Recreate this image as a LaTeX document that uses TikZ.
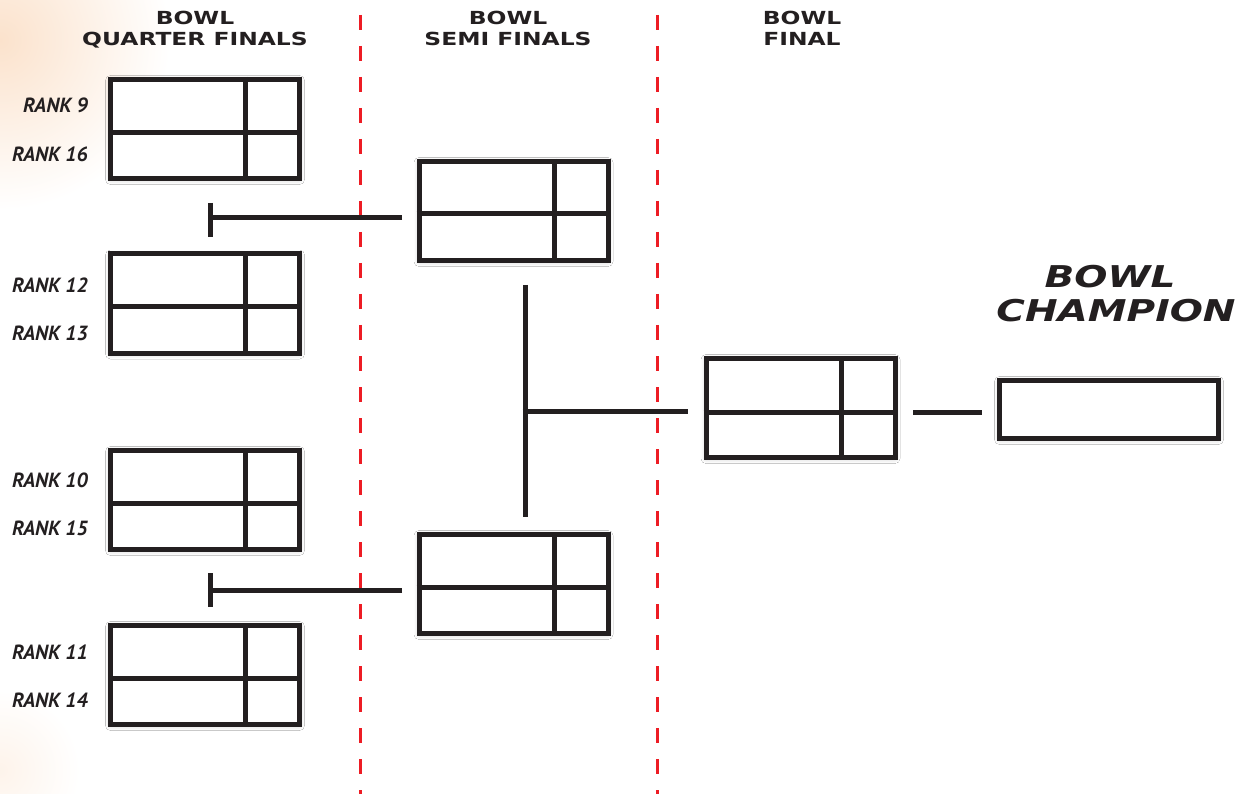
\documentclass[tikz,border=0pt]{standalone}
\usepackage{fontspec}
\usetikzlibrary{calc,shadows.blur}
\newfontfamily\headfont[FakeStretch=1.3]{DejaVu Sans}
\newfontfamily\rankfont{PT Sans}
\definecolor{ink}{HTML}{231F20}
\definecolor{redline}{HTML}{ED1C24}
\definecolor{peach}{HTML}{FBE2CC}
\tikzset{
  mbox/.style={draw=ink, line width=5pt, fill=white, rectangle, inner sep=0pt,
    minimum width=189pt, minimum height=99pt,
    blur shadow={shadow xshift=0pt, shadow yshift=-1pt, shadow blur radius=5pt, shadow blur steps=12, shadow opacity=22}},
  cbox/.style={mbox, minimum width=219pt, minimum height=58pt},
  mline/.style={draw=ink, line width=5pt},
  conn/.style={draw=ink, line width=5pt},
  sep/.style={draw=redline, line width=3pt, dash pattern=on 15pt off 16pt},
  head/.style={font=\headfont\bfseries\fontsize{18}{20}\selectfont, text=ink, anchor=base, inner sep=0pt},
  champ/.style={font=\headfont\bfseries\itshape\fontsize{30}{34}\selectfont, text=ink, anchor=base, inner sep=0pt},
  rank/.style={font=\rankfont\bfseries\itshape\fontsize{20.5}{22}\selectfont, text=ink, anchor=base east, inner sep=0pt},
}
\newcommand{\matchbox}[4]{%
  \node[mbox] (#1) at (#2,#3) {};
  \draw[mline] ([yshift=-#4pt]#1.west) -- ([yshift=-#4pt]#1.east);
  \draw[mline] ([xshift=137.5pt]#1.north west) -- ([xshift=137.5pt]#1.south west);
}
\begin{document}
\begin{tikzpicture}[x=1pt,y=-1pt]
\useasboundingbox[fill=white] (0,0) rectangle (1245,794);
% faint background tint
\begin{scope}
\clip (0,0) rectangle (1245,794);
\shade[inner color=peach, outer color=white] (0,40) circle (170);
\shade[inner color=peach!40, outer color=white] (0,770) circle (80);
\end{scope}
% separators
\coordinate (d1t) at (360,15); \coordinate (d1b) at (360,794);
\coordinate (d2t) at (657,15); \coordinate (d2b) at (657,794);
\draw[sep] (d1t) -- (d1b);
\draw[sep] (d2t) -- (d2b);
% headers
\node[head] (h1a) at (195,25) {BOWL};
\node[head] (h1b) at (195,46) {QUARTER FINALS};
\node[head] (h2a) at (508,25) {BOWL};
\node[head] (h2b) at (508,46) {SEMI FINALS};
\node[head] (h3a) at (802,25) {BOWL};
\node[head] (h3b) at (802,46) {FINAL};
\node[champ] (cha) at (1110,288) {BOWL};
\node[champ] (chb) at (1116,322) {CHAMPION};
% connectors
\coordinate (c1a) at (402,218); \coordinate (c1b) at (210,218);
\coordinate (c1t) at (210,203); \coordinate (c1u) at (210,237);
\draw[conn] (c1a) -- (c1b);
\draw[conn] (c1t) -- (c1u);
\coordinate (c2a) at (402,590); \coordinate (c2b) at (210,590);
\coordinate (c2t) at (210,573); \coordinate (c2u) at (210,607);
\draw[conn] (c2a) -- (c2b);
\draw[conn] (c2t) -- (c2u);
\coordinate (v1) at (525,285); \coordinate (v2) at (525,517);
\coordinate (v3) at (525,411); \coordinate (v4) at (688,411);
\draw[conn] (v1) -- (v2);
\draw[conn] ([xshift=-2.5pt]v3) -- (v4);
\coordinate (w1) at (913,412); \coordinate (w2) at (982,412);
\draw[conn] (w1) -- (w2);
% quarter final boxes
\matchbox{q1}{205}{129}{3.5}
\matchbox{q2}{205}{303.5}{3.5}
\matchbox{q3}{205}{500}{3.5}
\matchbox{q4}{205}{675}{3.5}
% semi final boxes
\matchbox{s1}{513.5}{211}{3}
\matchbox{s2}{513.5}{584}{3}
% final
\matchbox{f1}{800.5}{408}{4.5}
% champion
\node[cbox] (ch) at (1109,409.5) {};
% rank labels
\node[rank] (r9) at (88,113) {RANK 9};
\node[rank] (r16) at (88,162) {RANK 16};
\node[rank] (r12) at (88,293) {RANK 12};
\node[rank] (r13) at (88,341) {RANK 13};
\node[rank] (r10) at (88,487) {RANK 10};
\node[rank] (r15) at (88,535) {RANK 15};
\node[rank] (r11) at (88,659) {RANK 11};
\node[rank] (r14) at (88,707) {RANK 14};
\end{tikzpicture}
\end{document}
